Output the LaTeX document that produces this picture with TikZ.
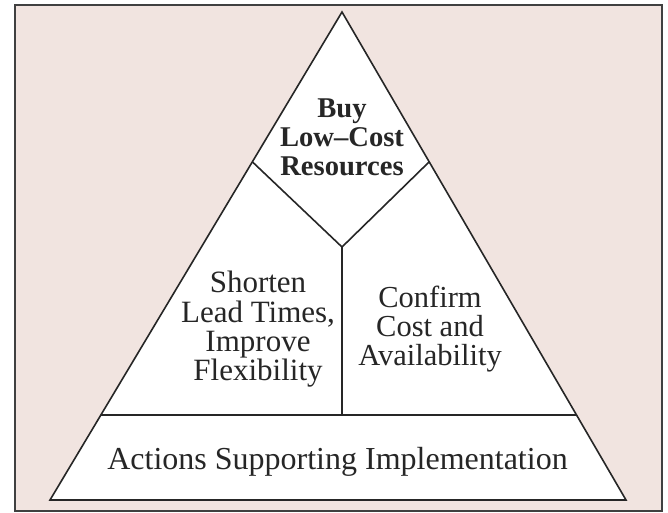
\documentclass[tikz,border=0pt]{standalone}
\usepackage{fontspec}
\setmainfont{Liberation Serif}
\usetikzlibrary{calc}
\begin{document}
\begin{tikzpicture}[x=1pt,y=-1pt,
  frameline/.style={draw=black!75,line width=2.4pt},
  triline/.style={draw=black!85,line width=1.6pt,line join=miter},
  lbl/.style={align=center,inner sep=0pt,text=black!85}]
\definecolor{pinkbg}{RGB}{241,228,224}
\useasboundingbox (0,0) rectangle (668,512);
\fill[white] (0,0) rectangle (668,512);
\fill[pinkbg] (15,5) rectangle (662,511);
\draw[frameline] (15,5) rectangle (662,511);
% triangle vertices
\coordinate (apex) at (342,12);
\coordinate (bl) at (50,500);
\coordinate (br) at (626,500);
\coordinate (hl) at ($(apex)!0.826!(bl)$);
\coordinate (hr) at ($(apex)!0.826!(br)$);
\coordinate (vl) at ($(apex)!0.307!(bl)$);
\coordinate (vr) at ($(apex)!0.307!(br)$);
\coordinate (vb) at (342,247);
\coordinate (hm) at (342,415);
\fill[white] (apex) -- (bl) -- (br) -- cycle;
\draw[triline] (apex) -- (bl) -- (br) -- cycle;
\draw[triline] (hl) -- (hr);
\draw[triline] (vl) -- (vb) -- (vr);
\draw[triline] (vb) -- (hm);
% labels
\node[lbl,font={\fontsize{28.6}{29}\selectfont\bfseries}] (top) at (342,137.5) {Buy\\Low--Cost\\Resources};
\node[lbl,font={\fontsize{31}{29.3}\selectfont}] (left) at (258,329.5) {Shorten\\Lead Times,\\Improve\\Flexibility};
\node[lbl,font={\fontsize{30.5}{29}\selectfont}] (right) at (430,329) {Confirm\\Cost and\\Availability};
\node[lbl,font={\fontsize{32}{34}\selectfont}] (bottom) at (337.5,461.5) {Actions Supporting Implementation};
\end{tikzpicture}
\end{document}
